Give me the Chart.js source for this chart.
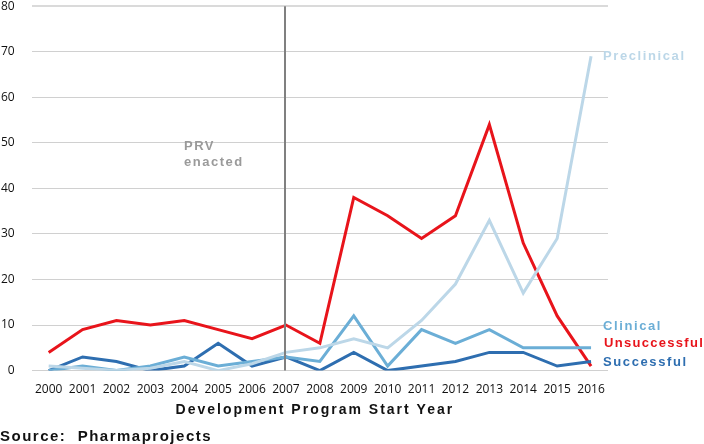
<!DOCTYPE html>
<html lang="en">
<head>
<meta charset="UTF-8">
<title>PRV development programs</title>
<script src="https://cdn.jsdelivr.net/npm/chart.js"></script>
<style>
  html, body { margin: 0; padding: 0; background: #fff; overflow: hidden; }
  #wrap { width: 704px; height: 444px; position: relative; overflow: hidden; }
  /* canvas nudged up/left so the plot box lines up with the original */
  #chart { position: absolute; left: -16px; top: -18px; }
</style>
</head>
<body>
<div id="wrap"><canvas id="chart" width="720" height="479"></canvas></div>
<script>
// data
const years = ['2000', '2001', '2002', '2003', '2004', '2005', '2006', '2007', '2008',
               '2009', '2010', '2011', '2012', '2013', '2014', '2015', '2016'];
const preclinical  = [1, 0.5, 0, 0.5, 2, 0, 1.5, 4, 5, 7, 5, 11, 19, 33, 17, 29, 69];
const clinical     = [0, 1, 0, 1, 3, 1, 2, 3, 2, 12, 1, 9, 6, 9, 5, 5, 5];
const successful   = [0, 3, 2, 0, 1, 6, 1, 3, 0, 4, 0, 1, 2, 4, 4, 1, 2];
const unsuccessful = [4, 9, 11, 10, 11, 9, 7, 10, 6, 38, 34, 29, 34, 54, 28, 12, 1];
const yTicks = [0, 10, 20, 30, 40, 50, 60, 70, 80];
const prvYear = '2007';

const colors = {
    preclinical: '#bcd7e8',
    clinical: '#6baed6',
    successful: '#2e6eb0',
    unsuccessful: '#e8141b'
};

const boldFont = '"Liberation Sans", Arial, sans-serif';
const shiftX = 16; // matches the css left offset

function spacedText(ctx, text, x, y, font, color, spacing, align) {
    ctx.save();
    ctx.font = font;
    ctx.fillStyle = color;
    ctx.letterSpacing = spacing + 'px';
    ctx.textBaseline = 'middle';
    ctx.textAlign = align || 'left';
    ctx.fillText(text, x, y);
    ctx.restore();
}

const extras = {
    id: 'extras',
    afterDatasetsDraw(chart) {
        const ctx = chart.ctx;
        const x = chart.scales.x;
        const y = chart.scales.y;
        const area = chart.chartArea;

        // PRV enacted marker
        const px = Math.round(x.getPixelForValue(years.indexOf(prvYear))) - 1;
        ctx.save();
        ctx.strokeStyle = '#808080';
        ctx.lineWidth = 2;
        ctx.beginPath();
        ctx.moveTo(px, area.top);
        ctx.lineTo(px, area.bottom);
        ctx.stroke();
        ctx.restore();
        spacedText(ctx, 'PRV', px - 101, y.getPixelForValue(49.3), 'bold 13px ' + boldFont, '#9a9a9a', 1.5);
        spacedText(ctx, 'enacted', px - 101, y.getPixelForValue(45.7), 'bold 13px ' + boldFont, '#9a9a9a', 1.5);
    },
    afterDraw(chart) {
        const ctx = chart.ctx;
        const y = chart.scales.y;
        const area = chart.chartArea;
        const lx = area.right - 5;
        const f = 'bold 13px ' + boldFont;
        spacedText(ctx, 'Preclinical', lx, y.getPixelForValue(69), f, colors.preclinical, 1.6);
        spacedText(ctx, 'Clinical', lx, y.getPixelForValue(9.8), f, colors.clinical, 1.6);
        spacedText(ctx, 'Unsuccessful', lx + 1, y.getPixelForValue(5.9), f, colors.unsuccessful, 1.3);
        spacedText(ctx, 'Successful', lx, y.getPixelForValue(1.9), f, colors.successful, 1.6);

        spacedText(ctx, 'Development Program Start Year', (area.left + area.right) / 2 - 5, area.bottom + 40,
                   'bold 14px ' + boldFont, '#111', 2, 'center');
        spacedText(ctx, 'Source:  Pharmaprojects', shiftX, area.bottom + 66,
                   'bold 15px ' + boldFont, '#111', 1.5);
    }
};

const line = (label, data, color) => ({
    label: label,
    data: data,
    borderColor: color,
    backgroundColor: color,
    borderWidth: 3,
    pointRadius: 0,
    tension: 0,
    fill: false
});

new Chart(document.getElementById('chart'), {
    type: 'line',
    data: {
        labels: years,
        datasets: [
            line('Preclinical', preclinical, colors.preclinical),
            line('Clinical', clinical, colors.clinical),
            line('Successful', successful, colors.successful),
            line('Unsuccessful', unsuccessful, colors.unsuccessful)
        ]
    },
    options: {
        responsive: false,
        animation: false,
        layout: { padding: { left: 0, right: 96, top: 0, bottom: 60 } },
        plugins: { legend: { display: false }, tooltip: { enabled: false } },
        scales: {
            x: {
                offset: true,
                grid: { display: false },
                border: { display: false },
                ticks: {
                    color: '#111',
                    font: { family: '"Open Sans", sans-serif', size: 12 },
                    maxRotation: 0,
                    autoSkip: false,
                    padding: 4
                }
            },
            y: {
                min: 0,
                max: 80,
                afterBuildTicks(scale) { scale.ticks = yTicks.map(v => ({ value: v })); },
                grid: {
                    color: c => (c.tick && c.tick.value === 80) ? '#dadada' : '#d0d0d0',
                    lineWidth: c => (c.tick && c.tick.value === 80) ? 2 : 1,
                    drawTicks: false
                },
                border: { display: false },
                ticks: {
                    color: '#111',
                    font: { family: '"Open Sans", sans-serif', size: 12 },
                    padding: 17
                }
            }
        }
    },
    plugins: [extras]
});
</script>
</body>
</html>
